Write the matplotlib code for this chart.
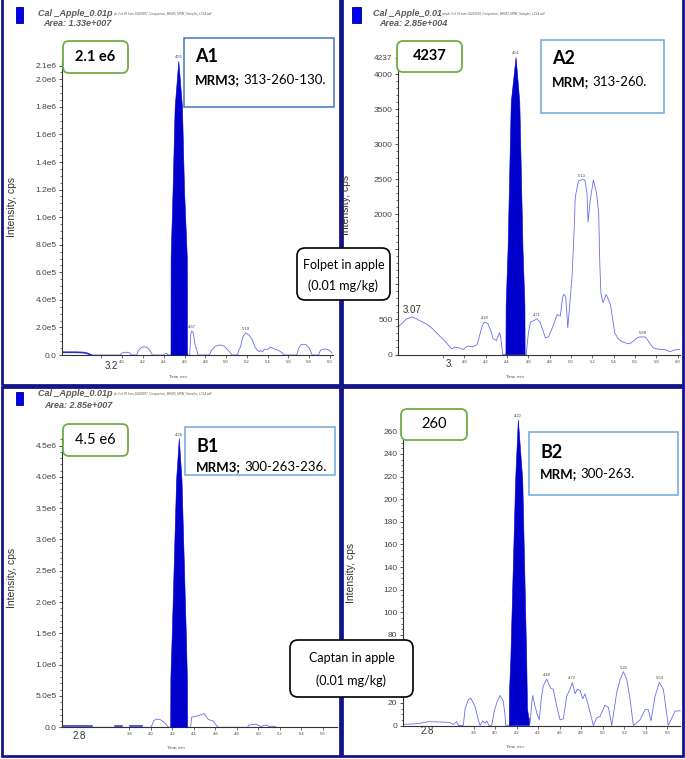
import matplotlib
matplotlib.use("Agg")
import matplotlib.pyplot as plt
from matplotlib.patches import FancyBboxPatch, Rectangle
from matplotlib.transforms import IdentityTransform
from matplotlib.ticker import FixedLocator, FixedFormatter, MultipleLocator

# ---------------- data ----------------
# A1  Folpet MRM3 313-260-130
a1_time = [3.70, 3.98, 3.99, 4.01, 4.04, 4.07, 4.09, 4.14, 4.15, 4.18, 4.21, 4.24, 4.27, 4.29,
           4.40, 4.41, 4.43, 4.44, 4.47, 4.63, 4.65, 4.66, 4.67, 4.685, 4.70, 4.72, 4.73,
           4.84, 4.86, 4.90, 4.94, 4.98, 5.02, 5.06, 5.11, 5.12, 5.14, 5.16, 5.19, 5.22, 5.25,
           5.28, 5.30, 5.32, 5.33, 5.35, 5.37, 5.40, 5.42, 5.44, 5.47, 5.50, 5.53, 5.56,
           5.68, 5.70, 5.72, 5.74, 5.77, 5.80, 5.83, 5.89, 5.91, 5.94, 5.97, 6.00, 6.02]
a1_int = [0, 0, 1.0e4, 1.8e4, 2.0e4, 1.6e4, 0, 0, 2.5e4, 5.2e4, 6.0e4, 5.5e4, 3.0e4, 0,
          0, 8e3, 1.2e4, 0, 0, 0, 0, 1.5e5, 1.75e5, 1.6e5, 8e4, 3e4, 0,
          0, 3.5e4, 6.5e4, 7.3e4, 6.5e4, 3.5e4, 0, 0, 3e4, 6e4, 1.3e5, 1.6e5, 1.45e5, 1.15e5,
          5.5e4, 3.6e4, 2.5e4, 3.3e4, 2.2e4, 4.3e4, 4.0e4, 5.3e4, 5.5e4, 4.2e4, 3.5e4, 2.2e4, 0,
          0, 5e4, 7.3e4, 7.8e4, 7.5e4, 5e4, 0, 0, 3.5e4, 4.3e4, 4.2e4, 3.2e4, 1.5e4]
a1_base_time = [3.42, 3.55, 3.62, 3.66, 3.70]
a1_base_int = [2.0e4, 2.0e4, 1.8e4, 1.3e4, 0]
a1_peak_time = [4.470, 4.471, 4.49, 4.51, 4.545, 4.58, 4.60, 4.627, 4.628]
a1_peak_int = [0, 7e5, 1.2e6, 1.8e6, 2.13e6, 1.8e6, 1.2e6, 7e5, 0]
a1_ytick_vals = [0, 2e5, 4e5, 6e5, 8e5, 1.0e6, 1.2e6, 1.4e6, 1.6e6, 1.8e6, 2.0e6, 2.1e6]
a1_ytick_labels = ["0.0", "2.0e5", "4.0e5", "6.0e5", "8.0e5", "1.0e6", "1.2e6", "1.4e6",
                   "1.6e6", "1.8e6", "2.0e6", "2.1e6"]
a1_peak_labels = [(4.545, 2.13e6, "4.55"), (4.67, 1.75e5, "4.67"), (5.19, 1.6e5, "5.19")]

# A2  Folpet MRM 313-260
a2_time = [3.38, 3.42, 3.46, 3.51, 3.55, 3.60, 3.65, 3.70, 3.77, 3.83, 3.88, 3.91, 3.95, 3.99,
           4.02, 4.04, 4.08, 4.12, 4.15, 4.17, 4.19, 4.22, 4.25, 4.27, 4.30, 4.33, 4.34, 4.36,
           4.58, 4.60, 4.62, 4.66, 4.68, 4.71, 4.74, 4.76, 4.79, 4.83, 4.87, 4.90, 4.92, 4.93,
           4.95, 4.97, 5.01, 5.03, 5.04, 5.07, 5.10, 5.13, 5.15, 5.16, 5.18, 5.21, 5.24, 5.26,
           5.27, 5.28, 5.30, 5.33, 5.37, 5.41, 5.44, 5.47, 5.51, 5.55, 5.59, 5.63, 5.67, 5.70,
           5.73, 5.77, 5.82, 5.88, 5.93, 5.96, 6.00, 6.02]
a2_int = [395, 450, 510, 535, 510, 470, 430, 370, 262, 170, 81, 105, 95, 71,
          110, 119, 110, 143, 310, 420, 462, 443, 330, 224, 200, 310, 260, 0,
          0, 300, 462, 490, 510, 462, 330, 238, 252, 400, 571, 548, 800, 857,
          833, 381, 1119, 1800, 2247, 2476, 2495, 2490, 2300, 1890, 2200, 2490, 2300, 2010,
          1300, 881, 738, 857, 714, 310, 230, 190, 165, 152, 200, 248, 252, 248,
          180, 95, 75, 71, 38, 62, 70, 71]
a2_peak_time = [4.39, 4.392, 4.41, 4.44, 4.485, 4.52, 4.55, 4.568, 4.57]
a2_peak_int = [0, 700, 1500, 3600, 4240, 3600, 1500, 700, 0]
a2_ytick_vals = [0, 500, 1000, 1500, 2000, 2500, 3000, 3500, 4000, 4237]
a2_ytick_labels = ["0", "500", "", "", "2000", "2500", "3000", "3500", "4000", "4237"]
a2_peak_labels = [(4.485, 4240, "4.51"), (4.19, 462, "4.20"), (4.68, 510, "4.71"),
                  (5.10, 2495, "5.13"), (5.67, 252, "5.68")]

# B1  Captan MRM3 300-263-236
b1_time = [3.45, 4.00, 4.01, 4.03, 4.055, 4.09, 4.13, 4.15, 4.163, 4.37, 4.38, 4.40, 4.43,
           4.46, 4.495, 4.52, 4.535, 4.56, 4.58, 4.60, 4.628, 4.90, 4.91, 4.95, 4.98, 5.00,
           5.03, 5.05, 5.08, 5.10, 5.12, 5.15, 5.17]
b1_int = [0, 0, 3e4, 1.1e5, 1.33e5, 1.2e5, 7e4, 3e4, 0, 0, 1.6e5, 1.7e5, 1.8e5,
          1.97e5, 2.2e5, 1.6e5, 1.25e5, 1.1e5, 1.0e5, 5e4, 0, 0, 3.5e4, 4.5e4, 5e4, 3e4,
          1e4, 3e4, 3.5e4, 1e4, 2e4, 1.5e4, 0]
b1_base_segments = [([3.186, 3.45], [2e4, 2e4]), ([3.667, 3.73], [2e4, 2e4]),
                    ([3.806, 3.915], [2e4, 2e4])]
b1_peak_time = [4.185, 4.187, 4.20, 4.24, 4.265, 4.29, 4.33, 4.34, 4.342]
b1_peak_int = [0, 8e5, 1.5e6, 3.95e6, 4.61e6, 3.95e6, 1.5e6, 8e5, 0]
b1_ytick_vals = [0, 5e5, 1.0e6, 1.5e6, 2.0e6, 2.5e6, 3.0e6, 3.5e6, 4.0e6, 4.5e6]
b1_ytick_labels = ["0.0", "5.0e5", "1.0e6", "1.5e6", "2.0e6", "2.5e6", "3.0e6", "3.5e6",
                   "4.0e6", "4.5e6"]
b1_peak_labels = [(4.265, 4.61e6, "4.26")]

# B2  Captan MRM 300-263
b2_time = [3.145, 3.25, 3.30, 3.378, 3.45, 3.52, 3.58, 3.61, 3.642, 3.657, 3.703, 3.72, 3.75,
           3.772, 3.79, 3.812, 3.843, 3.859, 3.884, 3.905, 3.921, 3.942, 3.967, 3.99, 4.014,
           4.045, 4.075, 4.09, 4.098, 4.324, 4.34, 4.349, 4.37, 4.39, 4.41, 4.43, 4.447, 4.479,
           4.50, 4.516, 4.54, 4.57, 4.603, 4.634, 4.665, 4.696, 4.717, 4.742, 4.764, 4.789,
           4.814, 4.835, 4.866, 4.913, 4.944, 4.975, 5.021, 5.053, 5.084, 5.13, 5.16, 5.192,
           5.223, 5.254, 5.285, 5.347, 5.394, 5.424, 5.449, 5.487, 5.527, 5.564, 5.61, 5.673,
           5.72]
b2_int = [1, 1.5, 2, 3.4, 3.2, 3, 2.5, 1, 3.4, 0, 0, 15, 23,
          24, 21, 16.7, 5, 0, 4, 2, 4, 0, 0, 12, 20,
          26.5, 21.5, 10, 0, 2, 20, 26.5, 17, 10, 5, 25, 35, 41,
          36, 33, 32, 18, 5, 5.9, 26, 32, 38, 28, 32, 31,
          23.6, 28, 17.7, 0, 6.8, 8, 18, 16, 0, 29, 40, 47.6,
          41, 23.6, 0, 5, 14, 14, 4, 26, 38, 32, 0, 12.7,
          13]
b2_peak_time = [4.131, 4.133, 4.145, 4.19, 4.215, 4.256, 4.293, 4.30, 4.31, 4.317, 4.318]
b2_peak_int = [0, 30, 58, 217, 270, 217, 58, 15, 8, 6, 0]
b2_ytick_vals = [0, 20, 40, 60, 80, 100, 120, 140, 160, 180, 200, 220, 240, 260]
b2_ytick_labels = ["0", "20", "", "", "80", "100", "120", "140", "160", "180", "200",
                   "220", "240", "260"]
b2_peak_labels = [(4.215, 270, "4.22"), (4.479, 41, "4.48"), (4.717, 38, "4.72"),
                  (5.192, 47.6, "5.20"), (5.527, 38, "5.54")]

x_tick_vals = [3.8, 4.0, 4.2, 4.4, 4.6, 4.8, 5.0, 5.2, 5.4, 5.6, 5.8, 6.0]
x_tick_labels = ["", "4.0", "4.2", "4.4", "4.6", "4.8", "5.0", "5.2", "5.4", "5.6", "5.8", "6.0"]
b_x_tick_vals = [3.8, 4.0, 4.2, 4.4, 4.6, 4.8, 5.0, 5.2, 5.4, 5.6]
b_x_tick_labels = ["3.8", "4.0", "4.2", "4.4", "4.6", "4.8", "5.0", "5.2", "5.4", "5.6"]

# ---------------- styling ----------------
W, H = 685, 759
fig = plt.figure(figsize=(W / 100, H / 100), dpi=100)
fig.patch.set_facecolor("white")
ID = IdentityTransform()

TRACE = "#6b6bf2"
FILL = "#0000cc"
NAVY = "#14148a"
AX_FONT = "Liberation Sans"
BOX_FONT = "Lato"


def px_axes(x0, x1, y_top, y_bottom):
    return fig.add_axes([x0 / W, 1 - y_bottom / H, (x1 - x0) / W, (y_bottom - y_top) / H])


def ftext(x, y, s, **kw):
    kw.setdefault("transform", ID)
    return fig.text(x, H - y, s, **kw)


def style_axes(ax, xlim, ylim, yvals, ylabels, xvals, xlabels, minor):
    ax.set_xlim(*xlim)
    ax.set_ylim(*ylim)
    ax.patch.set_alpha(0)
    for s in ["top", "right"]:
        ax.spines[s].set_visible(False)
    for s in ["left", "bottom"]:
        ax.spines[s].set_color("#333333")
        ax.spines[s].set_linewidth(0.8)
    ax.yaxis.set_major_locator(FixedLocator(yvals))
    ax.yaxis.set_major_formatter(FixedFormatter(ylabels))
    ax.yaxis.set_minor_locator(MultipleLocator(minor))
    ax.xaxis.set_major_locator(FixedLocator(xvals))
    ax.xaxis.set_major_formatter(FixedFormatter(xlabels))
    ax.tick_params(axis="y", which="major", length=2.5, width=0.6, labelsize=6,
                   labelcolor="#444444", color="#333333", pad=1.5)
    ax.tick_params(axis="y", which="minor", length=1.2, width=0.5, color="#333333")
    ax.tick_params(axis="x", which="major", length=2.2, width=0.5, labelsize=3,
                   labelcolor="#444444", color="#333333", pad=1.5)
    for lab in ax.get_yticklabels() + ax.get_xticklabels():
        lab.set_fontfamily(AX_FONT)


def draw_trace(ax, t, v, pt, pv, labels):
    ax.plot(t, v, color=TRACE, lw=0.6, zorder=2, clip_on=False)
    ax.fill(pt, pv, color=FILL, lw=0.4, zorder=3, clip_on=False)
    for (lt, lv, s) in labels:
        ax.annotate(s, (lt, lv), xytext=(0, 1.5), textcoords="offset points",
                    ha="center", va="bottom", fontsize=3, color="#444444",
                    fontfamily=AX_FONT, annotation_clip=False)


# panel frames
for (x0, y0, x1, y1) in [(2, -3, 340, 385), (342, -3, 683, 385),
                         (2, 387, 340, 756), (342, 387, 683, 756)]:
    fig.add_artist(Rectangle((x0, H - y1), x1 - x0, y1 - y0, transform=ID,
                             fill=False, edgecolor=NAVY, lw=2.0, zorder=0))

# ---- A1 ----
ax1 = px_axes(62, 333, 60, 355)
draw_trace(ax1, a1_time, a1_int, a1_peak_time, a1_peak_int, a1_peak_labels)
ax1.plot(a1_base_time, a1_base_int, color="#2a2ad0", lw=1.2, zorder=2)
style_axes(ax1, (3.42, 6.03), (0, 2.14e6), a1_ytick_vals, a1_ytick_labels,
           x_tick_vals, x_tick_labels, 5e4)

# ---- A2 ----
ax2 = px_axes(398, 680, 56, 354.5)
draw_trace(ax2, a2_time, a2_int, a2_peak_time, a2_peak_int, a2_peak_labels)
style_axes(ax2, (3.378, 6.022), (0, 4260), a2_ytick_vals, a2_ytick_labels,
           x_tick_vals, x_tick_labels, 100)
ax2.text(3.51, 560, "3.07", fontsize=7, fontfamily=AX_FONT, color="#333333",
         ha="center", va="bottom")

# ---- B1 ----
ax3 = px_axes(62, 337, 438, 727.3)
draw_trace(ax3, b1_time, b1_int, b1_peak_time, b1_peak_int, b1_peak_labels)
for (st, sv) in b1_base_segments:
    ax3.plot(st, sv, color="#2a2ad0", lw=1.1, zorder=2)
style_axes(ax3, (3.174, 5.732), (0, 4.62e6), b1_ytick_vals, b1_ytick_labels,
           b_x_tick_vals, b_x_tick_labels, 1e5)

# ---- B2 ----
ax4 = px_axes(403, 680, 420, 725.5)
draw_trace(ax4, b2_time, b2_int, b2_peak_time, b2_peak_int, b2_peak_labels)
style_axes(ax4, (3.142, 5.719), (0, 270), b2_ytick_vals, b2_ytick_labels,
           b_x_tick_vals, b_x_tick_labels, 5)

# y labels
for (x, y) in [(12, 207), (346, 205), (12, 578), (351, 573)]:
    ftext(x, y, "Intensity, cps", rotation=90, ha="center", va="center",
          fontsize=7.5, fontfamily=AX_FONT, color="#333333")

# x labels (tiny) and hand-written start labels
for (x, y) in [(178, 377), (515, 377), (176, 748), (515, 747)]:
    ftext(x, y, "Time, min", ha="center", va="center", fontsize=3,
          fontfamily=AX_FONT, color="#444444")
for (x, y, s) in [(111, 366, "3.2"), (450, 364, "3."), (79, 736, "2.8"), (427, 731, "2.8")]:
    ftext(x, y, s, ha="center", va="center", fontsize=7, fontfamily=AX_FONT,
          color="#333333")

# headers
renderer = fig.canvas.get_renderer()


def header(sq, x, y, main, tiny, area_xy, area):
    fig.add_artist(Rectangle((sq[0], H - sq[1] - sq[3]), sq[2], sq[3], transform=ID,
                             facecolor="#0000ff", edgecolor="#000060", lw=0.6, zorder=5))
    t = ftext(x, y, main, ha="left", va="center", fontsize=6.5, fontstyle="italic",
              fontweight="bold", fontfamily=AX_FONT, color="#5a5a5a", zorder=5)
    bb = t.get_window_extent(renderer)
    fig.text(bb.x1 + 0.5, H - y + 0.5, tiny, transform=ID, ha="left", va="center",
             fontsize=2.2, fontstyle="italic", fontfamily=AX_FONT, color="#5a5a5a")
    ftext(area_xy[0], area_xy[1], area, ha="left", va="center", fontsize=6.5,
          fontstyle="italic", fontweight="bold", fontfamily=AX_FONT, color="#5a5a5a")


header((16, 7, 6.5, 16), 38, 14, "Cal _Apple_0.01p",
       "ple 3 of 39 from 20220507_Comparison_MRM3_MRM_Samples_LC14.wiff",
       (43, 24), "Area: 1.33e+007")
header((352, 7, 9, 16), 373, 14, "Cal _Apple_0.01",
       "ample 3 of 39 from 20220519_Comparison_MRM3_MRM_Samples_LC14.wiff",
       (379, 24), "Area: 2.85e+004")
header((16, 392, 6.5, 13), 38, 394, "Cal _Apple_0.01p",
       "ple 3 of 39 from 20220507_Comparison_MRM3_MRM_Samples_LC14.wiff",
       (44, 406), "Area: 2.85e+007")


# boxes
def rbox(x0, y0, x1, y1, ec, lw, rs, fc="white", z=6):
    fig.add_artist(FancyBboxPatch((x0, H - y1), x1 - x0, y1 - y0, transform=ID,
                                  boxstyle=f"round,pad=0,rounding_size={rs}",
                                  facecolor=fc, edgecolor=ec, lw=lw, zorder=z))


GREEN = "#70ad47"
for (x0, y0, x1, y1, s, bold) in [(63, 41, 128, 73, "2.1 e6", True),
                                  (397, 41, 462, 72, "4237", True),
                                  (63, 424, 128, 456, "4.5 e6", False),
                                  (401, 409, 467, 440, "260", False)]:
    rbox(x0, y0, x1, y1, GREEN, 1.3, 6)
    ftext((x0 + x1) / 2, (y0 + y1) / 2, s, ha="center", va="center", fontsize=10.5,
          fontweight="bold" if bold else "normal", fontfamily=BOX_FONT, color="black",
          zorder=7)

for (x0, y0, x1, y1, ec, title, b, rest, ty, my) in [
        (184, 38, 334, 107, "#4472c4", "A1", "MRM3;", "313-260-130.", 56, 80),
        (541, 40, 664, 113, "#6fa8dc", "A2", "MRM;", "313-260.", 59, 82),
        (185, 427, 335, 475, "#6fa8dc", "B1", "MRM3;", "300-263-236.", 446, 467),
        (529, 432, 678, 495, "#6fa8dc", "B2", "MRM;", "300-263.", 452, 474)]:
    fig.add_artist(Rectangle((x0, H - y1), x1 - x0, y1 - y0, transform=ID,
                             facecolor="white", edgecolor=ec, lw=1.1, zorder=6))
    ftext(x0 + 11, ty, title, ha="left", va="center", fontsize=13, fontweight="bold",
          fontfamily=BOX_FONT, color="black", zorder=7)
    t = ftext(x0 + 11, my, b, ha="left", va="center", fontsize=9.5, fontweight="bold",
              fontfamily=BOX_FONT, color="black", zorder=7)
    bb = t.get_window_extent(renderer)
    fig.text(bb.x1 + 3, H - my, rest, transform=ID, ha="left", va="center",
             fontsize=9.5, fontfamily=BOX_FONT, color="black", zorder=7)

for (x0, y0, x1, y1, l1, l2) in [(297, 248, 390, 300, "Folpet in apple", "(0.01 mg/kg)"),
                                 (290, 640, 413, 697, "Captan in apple", "(0.01 mg/kg)")]:
    rbox(x0, y0, x1, y1, "black", 1.2, 8)
    cx = (x0 + x1) / 2
    ftext(cx, y0 + (y1 - y0) * 0.32, l1, ha="center", va="center", fontsize=9,
          fontfamily=BOX_FONT, color="black", zorder=7)
    ftext(cx, y0 + (y1 - y0) * 0.72, l2, ha="center", va="center", fontsize=9,
          fontfamily=BOX_FONT, color="black", zorder=7)

fig.savefig("out.png", dpi=100)
